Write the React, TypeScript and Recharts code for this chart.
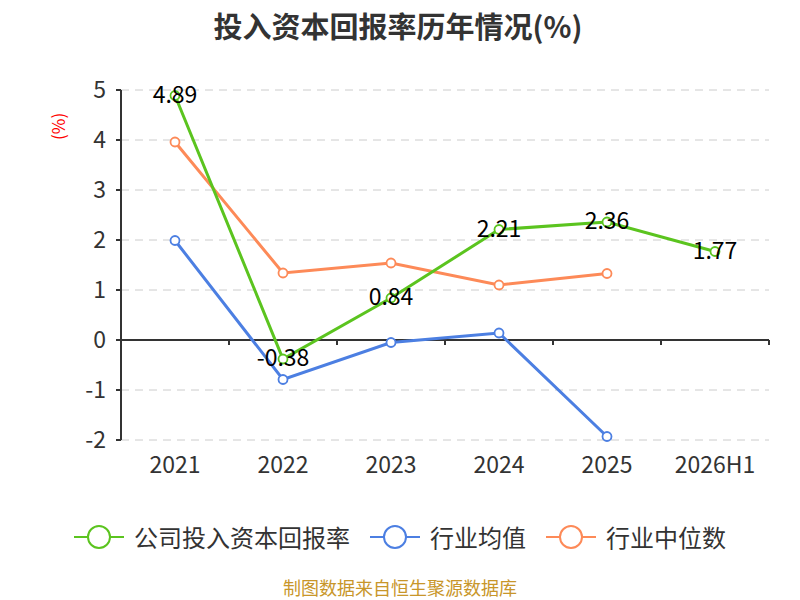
import React from "react";
import {
  LineChart,
  Line,
  XAxis,
  YAxis,
  CartesianGrid,
  Legend,
  ReferenceLine,
  LabelList,
} from "recharts";

const years = ["2021", "2022", "2023", "2024", "2025", "2026H1"];
const companyRoic = [4.89, -0.38, 0.84, 2.21, 2.36, 1.77];
const industryMean = [1.99, -0.79, -0.05, 0.14, -1.93, null];
const industryMedian = [3.96, 1.34, 1.54, 1.1, 1.33, null];
const yTicks = [-2, -1, 0, 1, 2, 3, 4, 5];

const GREEN = "#5bc41f";
const BLUE = "#4c7fe2";
const ORANGE = "#fd8a58";
const FONT = "'Noto Sans CJK SC', 'Noto Sans', sans-serif";

const chartData = years.map((year, i) => ({
  year,
  company: companyRoic[i],
  mean: industryMean[i],
  median: industryMedian[i],
}));

const legendItems = [
  { name: "公司投入资本回报率", color: GREEN },
  { name: "行业均值", color: BLUE },
  { name: "行业中位数", color: ORANGE },
];

const renderLegend = () => (
  <div style={{ display: "flex", justifyContent: "center", fontFamily: FONT, fontSize: 24, color: "#333", lineHeight: "30px" }}>
    {legendItems.map((item, i) => (
      <div key={item.name} style={{ display: "flex", alignItems: "center", marginLeft: i === 0 ? 0 : 20 }}>
        <svg width={50} height={26} style={{ marginRight: 10 }}>
          <line x1={0} y1={13} x2={50} y2={13} stroke={item.color} strokeWidth={2} />
          <circle cx={25} cy={13} r={11} fill="#fff" stroke={item.color} strokeWidth={2} />
        </svg>
        <span>{item.name}</span>
      </div>
    ))}
  </div>
);

const renderValue = (props: any) => {
  const { x, y, value } = props;
  if (value == null) return null;
  return (
    <text x={x} y={y - 3} textAnchor="middle" dominantBaseline="central" fontSize={23} fill="#000" fontFamily={FONT}>
      {value}
    </text>
  );
};

const dot = (color: string) => ({ r: 4.5, fill: "#fff", stroke: color, strokeWidth: 1.8 });

export default function App() {
  return (
    <div style={{ position: "absolute", left: 0, top: 0, width: 800, height: 600, background: "#fff", fontFamily: FONT }}>
      <div style={{ position: "absolute", top: 4, left: 0, width: 796, textAlign: "center", fontSize: 29, fontWeight: "bold", color: "#333" }}>
        投入资本回报率历年情况(%)
      </div>
      <LineChart width={800} height={600} data={chartData} margin={{ top: 90, right: 31, left: 61, bottom: 80 }}>
        <CartesianGrid vertical={false} stroke="#ccc" strokeDasharray="8 6" />
        <XAxis
          dataKey="year"
          scale="band"
          axisLine={false}
          tickLine={false}
          tickSize={0}
          tickMargin={17}
          tick={{ fontSize: 23, fill: "#333", fontFamily: FONT }}
          interval={0}
          height={50}
        />
        <YAxis
          domain={[-2, 5]}
          ticks={yTicks}
          width={60}
          axisLine={{ stroke: "#333", strokeWidth: 2 }}
          tickLine={{ stroke: "#333", strokeWidth: 2 }}
          tickSize={5}
          tickMargin={10}
          tick={{ fontSize: 23, fill: "#333", fontFamily: FONT }}
          label={{ value: "(%)", angle: -90, position: "insideTopLeft", offset: 0, dx: -8, dy: 50, fill: "red", fontSize: 17 }}
        />
        <ReferenceLine y={0} stroke="#333" strokeWidth={2} />
        {years.slice(1).map((y) => (
          <ReferenceLine
            key={y}
            segment={[{ x: y, y: 0 }, { x: y, y: -0.1 }]}
            position="start"
            stroke="#333"
            strokeWidth={2}
          />
        ))}
        <ReferenceLine
          segment={[{ x: years[years.length - 1], y: 0 }, { x: years[years.length - 1], y: -0.1 }]}
          position="end"
          stroke="#333"
          strokeWidth={2}
        />
        <Legend verticalAlign="bottom" content={renderLegend} wrapperStyle={{ bottom: 48, left: 0, width: 800 }} />
        <Line
          dataKey="mean"
          name="行业均值"
          stroke={BLUE}
          strokeWidth={3}
          dot={dot(BLUE)}
          activeDot={false}
          isAnimationActive={false}
        />
        <Line
          dataKey="median"
          name="行业中位数"
          stroke={ORANGE}
          strokeWidth={3}
          dot={dot(ORANGE)}
          activeDot={false}
          isAnimationActive={false}
        />
        <Line
          dataKey="company"
          name="公司投入资本回报率"
          stroke={GREEN}
          strokeWidth={3}
          dot={dot(GREEN)}
          activeDot={false}
          isAnimationActive={false}
        >
          <LabelList dataKey="company" content={renderValue} />
        </Line>
      </LineChart>
      <div style={{ position: "absolute", top: 577, left: 0, width: 800, textAlign: "center", fontSize: 18, lineHeight: "20px", color: "#c8962a" }}>
        制图数据来自恒生聚源数据库
      </div>
    </div>
  );
}
